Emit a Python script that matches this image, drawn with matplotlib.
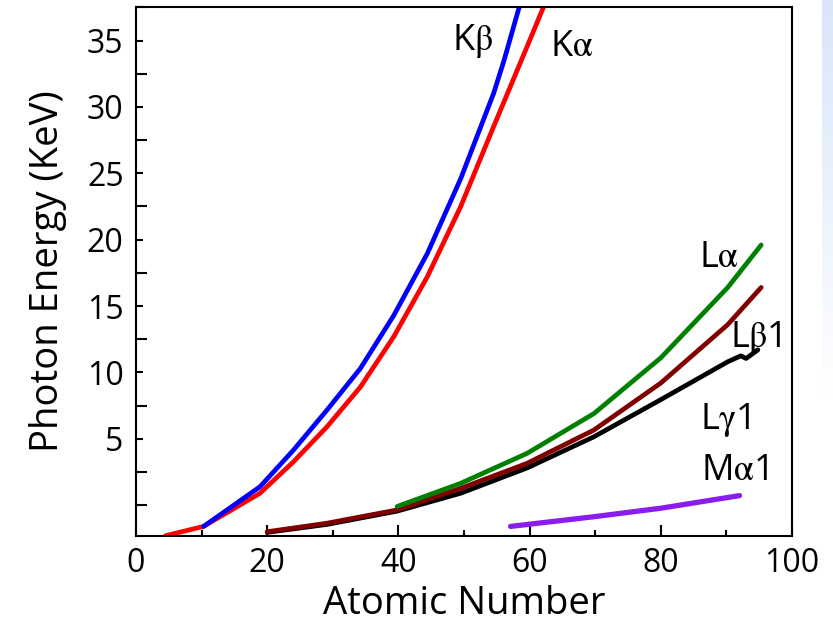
import numpy as np
import matplotlib
matplotlib.use("Agg")
from matplotlib import pyplot as plt
from matplotlib.ticker import MultipleLocator

# values (atomic number, photon energy)
ka_z = [4.5, 10.3, 18.9, 24.0, 29.1, 34.2, 39.3, 44.4, 49.5, 54.5, 60.0, 62.1]
ka_e = [-2.3, -1.6, 0.9, 3.27, 5.9, 8.9, 12.7, 17.2, 22.5, 28.5, 35.0, 37.5]

kb_z = [10.3, 18.9, 24.0, 29.1, 34.2, 39.3, 44.4, 49.5, 54.5, 56.1, 58.4]
kb_e = [-1.6, 1.39, 4.15, 7.16, 10.3, 14.3, 18.95, 24.6, 31.0, 33.5, 37.5]

la_z = [39.8, 49.5, 59.6, 69.8, 80.0, 90.2, 95.3]
la_e = [-0.1, 1.65, 3.9, 6.9, 11.1, 16.4, 19.6]

lb1_z = [20.0, 29.1, 39.8, 49.5, 59.6, 69.8, 80.0, 90.2, 95.3]
lb1_e = [-2.0, -1.36, -0.36, 1.27, 3.15, 5.66, 9.2, 13.6, 16.4]

lg1_z = [20.0, 29.1, 39.8, 49.5, 59.6, 69.8, 80.0, 90.2, 92.2, 93.0, 94.8]
lg1_e = [-2.05, -1.45, -0.45, 0.9, 2.8, 5.15, 7.95, 10.8, 11.25, 11.05, 11.7]

ma1_z = [57.1, 69.8, 80.0, 92.0]
ma1_e = [-1.6, -0.87, -0.23, 0.72]

labels = [r"K$\mathrm{\beta}$", r"K$\mathrm{\alpha}$", r"L$\mathrm{\alpha}$",
          r"L$\mathrm{\beta}$1", r"L$\mathrm{\gamma}$1", r"M$\mathrm{\alpha}$1"]
label_z = [51.3, 66.4, 88.9, 94.5, 89.9, 91.2]
label_e = [35.0, 34.5, 18.6, 12.6, 6.4, 2.6]

plt.rcParams['font.family'] = ['Open Sans', 'DejaVu Sans']
plt.rcParams['mathtext.fontset'] = 'stix'

fig = plt.figure(figsize=(8.33, 6.36), dpi=100)

# faint blue slide background at the right edge
bg = fig.add_axes([0.987, 0.0, 0.013, 1.0])
fade = np.clip(np.linspace(1, -0.6, 200), 0, 1).reshape(-1, 1, 1)
top = np.array([0.85, 0.9, 0.98]).reshape(1, 1, 3)
bg.imshow(1 - fade * (1 - top), aspect='auto', extent=[0, 1, 0, 1])
bg.axis('off')

ax = fig.add_axes([0.1633, 0.1577, 0.7875, 0.8308])

lw = 3.4
ax.plot(ka_z, ka_e, color='#ff0000', lw=lw, solid_capstyle='round', solid_joinstyle='round')
ax.plot(kb_z, kb_e, color='#0000ff', lw=lw, solid_capstyle='round', solid_joinstyle='round')
ax.plot(lg1_z, lg1_e, color='black', lw=lw, solid_capstyle='round', solid_joinstyle='round')
ax.plot(lb1_z, lb1_e, color='#800000', lw=lw, solid_capstyle='round', solid_joinstyle='round')
ax.plot(la_z, la_e, color='#008000', lw=lw, solid_capstyle='round', solid_joinstyle='round')
ax.plot(ma1_z, ma1_e, color='#8b1cf0', lw=3.8, solid_capstyle='round', solid_joinstyle='round')

for t, zx, ey in zip(labels, label_z, label_e):
    ax.text(zx, ey, t, fontsize=26, ha='center', va='center')

ax.set_xlim(0, 100)
ax.set_ylim(-2.3, 37.5)
ax.set_xticks([0, 20, 40, 60, 80, 100])
ax.xaxis.set_minor_locator(MultipleLocator(10))
ax.set_yticks([5, 10, 15, 20, 25, 30, 35])
ax.yaxis.set_minor_locator(MultipleLocator(2.5))
ax.tick_params(which='both', direction='in', width=1.5, labelsize=23)
ax.tick_params(axis='y', which='both', pad=9)
ax.tick_params(axis='x', which='both', pad=8)
ax.tick_params(axis='y', which='major', length=5)
ax.tick_params(axis='y', which='minor', length=8)
ax.tick_params(axis='x', which='major', length=8)
ax.tick_params(axis='x', which='minor', length=4)
for s in ax.spines.values():
    s.set_linewidth(1.5)

ax.set_xlabel("Atomic Number", fontsize=27.5, labelpad=4)
ax.set_ylabel("Photon Energy (KeV)", fontsize=27.5, labelpad=14)

plt.savefig("out.png", dpi=100)
